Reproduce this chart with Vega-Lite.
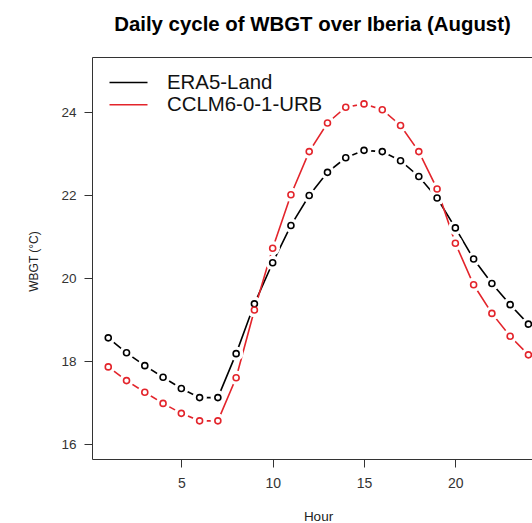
{
  "$schema": "https://vega.github.io/schema/vega-lite/v6.json",
  "width": 441,
  "height": 402,
  "autosize": {"type": "none"},
  "padding": {"left": 92, "top": 57, "right": 0, "bottom": 66},
  "background": "white",
  "title": {"text": "Daily cycle of WBGT over Iberia (August)", "font": "Liberation Sans", "fontSize": 20.4, "fontWeight": "bold", "anchor": "middle", "offset": 22, "color": "#000000"},
  "config": {"view": {"stroke": "#333333", "strokeWidth": 1}, "font": "Liberation Sans"},
  "data": {"values": [
    {"hour": 1, "series": "ERA5-Land", "wbgt": 18.56},
    {"hour": 2, "series": "ERA5-Land", "wbgt": 18.20},
    {"hour": 3, "series": "ERA5-Land", "wbgt": 17.89},
    {"hour": 4, "series": "ERA5-Land", "wbgt": 17.61},
    {"hour": 5, "series": "ERA5-Land", "wbgt": 17.34},
    {"hour": 6, "series": "ERA5-Land", "wbgt": 17.12},
    {"hour": 7, "series": "ERA5-Land", "wbgt": 17.12},
    {"hour": 8, "series": "ERA5-Land", "wbgt": 18.18},
    {"hour": 9, "series": "ERA5-Land", "wbgt": 19.38},
    {"hour": 10, "series": "ERA5-Land", "wbgt": 20.37},
    {"hour": 11, "series": "ERA5-Land", "wbgt": 21.27},
    {"hour": 12, "series": "ERA5-Land", "wbgt": 21.99},
    {"hour": 13, "series": "ERA5-Land", "wbgt": 22.55},
    {"hour": 14, "series": "ERA5-Land", "wbgt": 22.90},
    {"hour": 15, "series": "ERA5-Land", "wbgt": 23.08},
    {"hour": 16, "series": "ERA5-Land", "wbgt": 23.05},
    {"hour": 17, "series": "ERA5-Land", "wbgt": 22.83},
    {"hour": 18, "series": "ERA5-Land", "wbgt": 22.45},
    {"hour": 19, "series": "ERA5-Land", "wbgt": 21.93},
    {"hour": 20, "series": "ERA5-Land", "wbgt": 21.21},
    {"hour": 21, "series": "ERA5-Land", "wbgt": 20.46},
    {"hour": 22, "series": "ERA5-Land", "wbgt": 19.87},
    {"hour": 23, "series": "ERA5-Land", "wbgt": 19.36},
    {"hour": 24, "series": "ERA5-Land", "wbgt": 18.89},
    {"hour": 1, "series": "CCLM6-0-1-URB", "wbgt": 17.86},
    {"hour": 2, "series": "CCLM6-0-1-URB", "wbgt": 17.53},
    {"hour": 3, "series": "CCLM6-0-1-URB", "wbgt": 17.25},
    {"hour": 4, "series": "CCLM6-0-1-URB", "wbgt": 16.98},
    {"hour": 5, "series": "CCLM6-0-1-URB", "wbgt": 16.74},
    {"hour": 6, "series": "CCLM6-0-1-URB", "wbgt": 16.56},
    {"hour": 7, "series": "CCLM6-0-1-URB", "wbgt": 16.56},
    {"hour": 8, "series": "CCLM6-0-1-URB", "wbgt": 17.60},
    {"hour": 9, "series": "CCLM6-0-1-URB", "wbgt": 19.23},
    {"hour": 10, "series": "CCLM6-0-1-URB", "wbgt": 20.72},
    {"hour": 11, "series": "CCLM6-0-1-URB", "wbgt": 22.01},
    {"hour": 12, "series": "CCLM6-0-1-URB", "wbgt": 23.05},
    {"hour": 13, "series": "CCLM6-0-1-URB", "wbgt": 23.74},
    {"hour": 14, "series": "CCLM6-0-1-URB", "wbgt": 24.12},
    {"hour": 15, "series": "CCLM6-0-1-URB", "wbgt": 24.20},
    {"hour": 16, "series": "CCLM6-0-1-URB", "wbgt": 24.06},
    {"hour": 17, "series": "CCLM6-0-1-URB", "wbgt": 23.68},
    {"hour": 18, "series": "CCLM6-0-1-URB", "wbgt": 23.05},
    {"hour": 19, "series": "CCLM6-0-1-URB", "wbgt": 22.15},
    {"hour": 20, "series": "CCLM6-0-1-URB", "wbgt": 20.84},
    {"hour": 21, "series": "CCLM6-0-1-URB", "wbgt": 19.84},
    {"hour": 22, "series": "CCLM6-0-1-URB", "wbgt": 19.15},
    {"hour": 23, "series": "CCLM6-0-1-URB", "wbgt": 18.60},
    {"hour": 24, "series": "CCLM6-0-1-URB", "wbgt": 18.15}
  ]},
  "encoding": {
    "x": {"field": "hour", "type": "quantitative",
      "scale": {"domain": [0.11, 24.25], "nice": false, "zero": false},
      "axis": {"values": [5, 10, 15, 20], "tickSize": 8, "tickColor": "#333333", "domain": false, "grid": false,
        "labelFontSize": 14, "labelColor": "#333333", "labelPadding": 9,
        "title": "Hour", "titleFontSize": 13.5, "titleFontWeight": "normal", "titleColor": "#222222",
        "titleX": 226, "titleY": 61, "titleBaseline": "alphabetic"}},
    "y": {"field": "wbgt", "type": "quantitative",
      "scale": {"domain": [15.64, 25.33], "nice": false, "zero": false},
      "axis": {"values": [16, 18, 20, 22, 24], "tickSize": 8, "tickColor": "#333333", "domain": false, "grid": false,
        "labelFontSize": 13.5, "labelColor": "#333333", "labelPadding": 8,
        "title": "WBGT (°C)", "titleFontSize": 12, "titleFontWeight": "normal", "titleColor": "#222222",
        "titleX": -55, "titleY": 204, "titleBaseline": "alphabetic"}}
  },
  "layer": [
    {"mark": {"type": "line", "strokeWidth": 1.6},
     "encoding": {"color": {"field": "series", "type": "nominal",
       "scale": {"domain": ["ERA5-Land", "CCLM6-0-1-URB"], "range": ["#000000", "#e3242b"]},
       "legend": {"orient": "none", "legendX": 26, "legendY": 15, "title": null,
         "symbolType": "M-2,0H2", "symbolSize": 361, "symbolStrokeWidth": 1.6,
         "labelFontSize": 20.4, "labelColor": "#111111", "labelOffset": 28, "rowPadding": 1.3,
         "padding": 0}}}},
    {"mark": {"type": "point", "shape": "circle", "filled": true, "color": "white", "opacity": 1, "size": 210, "strokeWidth": 0}},
    {"mark": {"type": "point", "shape": "circle", "filled": false, "opacity": 1, "size": 36, "strokeWidth": 1.6},
     "encoding": {"color": {"field": "series", "type": "nominal", "legend": null}}}
  ]
}
